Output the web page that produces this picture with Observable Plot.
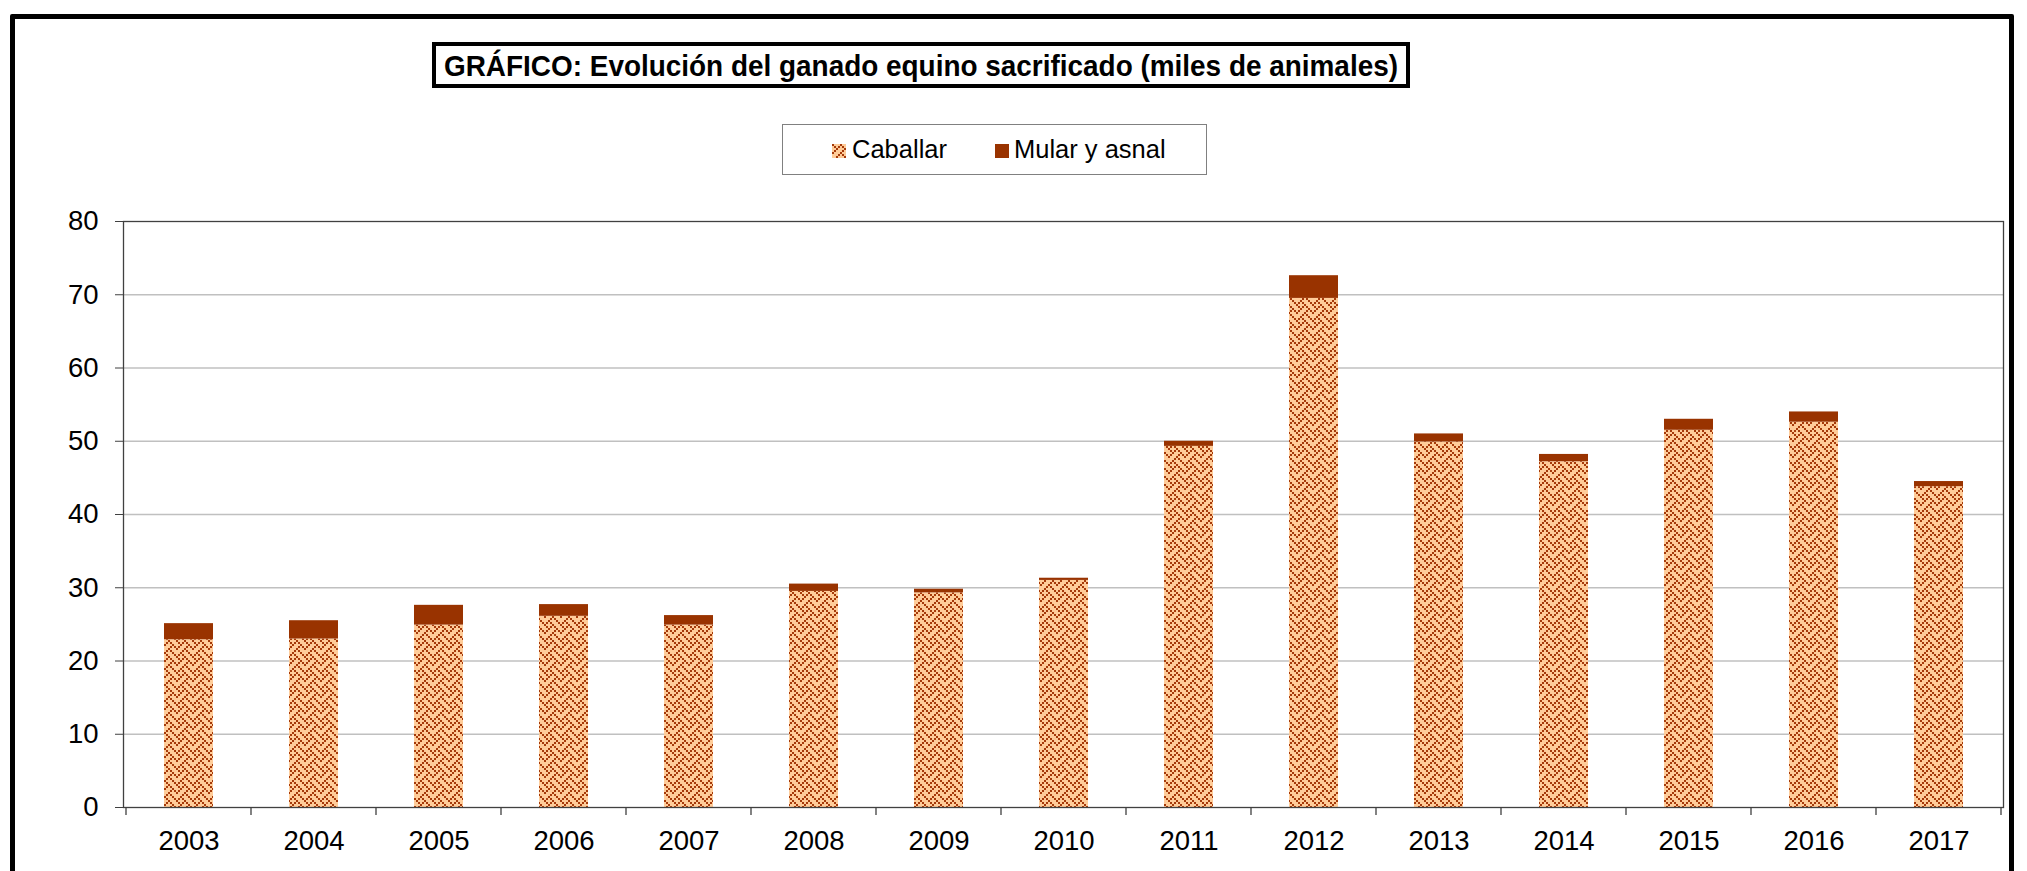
<!DOCTYPE html>
<html>
<head>
<meta charset="utf-8">
<script src="https://cdn.jsdelivr.net/npm/d3@7"></script>
<script src="https://cdn.jsdelivr.net/npm/@observablehq/plot@0.6"></script>
<style>
  html, body { margin: 0; padding: 0; background: #fff; overflow: hidden; }
  #page { position: relative; width: 2027px; height: 871px; overflow: hidden; font-family: "Liberation Sans", Arial, sans-serif; }
  #frame { position: absolute; left: 10px; top: 14px; width: 1994px; height: 1000px; border: 5px solid #000; border-radius: 2px; box-sizing: content-box; }
  #chart { position: absolute; left: 0; top: 0; }
  #title { position: absolute; left: 432px; top: 42px; width: 970px; height: 38px; border: 4px solid #000; background: #fff; z-index: 2; }
  #title svg { overflow: visible; display: block; }
  #legend { position: absolute; left: 782px; top: 124px; width: 423px; height: 49px; border: 1.5px solid #808080; background: #fff; z-index: 2; font-size: 25.5px; color: #000; }
  .sw { position: absolute; width: 14px; height: 14px; top: 19px; }
  .lt { position: absolute; top: 9px; line-height: 30px; white-space: nowrap; }
</style>
</head>
<body>
<svg width="0" height="0" style="position:absolute">
  <defs>
    <pattern id="weave" patternUnits="userSpaceOnUse" width="16" height="16">
      <rect width="16" height="16" fill="#ffcc99"></rect>
      <g id="weavecells"></g>
    </pattern>
  </defs>
</svg>
<div id="page">
  <div id="frame"></div>
  <div id="chart"></div>
  <div id="title">
    <svg width="970" height="38">
      <text x="8" y="30" font-family="Liberation Sans, Arial, sans-serif" font-weight="bold" font-size="30" textLength="954" lengthAdjust="spacingAndGlyphs">GRÁFICO: Evolución del ganado equino sacrificado (miles de animales)</text>
    </svg>
  </div>
  <div id="legend">
    <svg class="sw" style="left:49px" width="14" height="14"><rect width="14" height="14" fill="url(#weave)"></rect></svg>
    <div class="lt" style="left:69px">Caballar</div>
    <svg class="sw" style="left:212px" width="14" height="14"><rect width="14" height="14" fill="#993300"></rect></svg>
    <div class="lt" style="left:231px">Mular y asnal</div>
  </div>
</div>
<script>
// ---- data ----
const years = ["2003","2004","2005","2006","2007","2008","2009","2010","2011","2012","2013","2014","2015","2016","2017"];
const caballar = [22.9, 23.0, 24.9, 26.1, 24.9, 29.5, 29.3, 31.0, 49.3, 69.5, 49.9, 47.2, 51.5, 52.6, 43.8];
const mular    = [2.2, 2.5, 2.7, 1.6, 1.3, 1.0, 0.5, 0.3, 0.7, 3.1, 1.1, 1.0, 1.5, 1.4, 0.7];
const yTicks = [0, 10, 20, 30, 40, 50, 60, 70, 80];
const seriesNames = ["Caballar", "Mular y asnal"];

// weave pattern bitmap (8x8)
const weaveBits = [0x88, 0x54, 0x22, 0x45, 0x88, 0x14, 0x22, 0x51];
const cells = d3.select("#weavecells");
weaveBits.forEach((b, r) => {
  for (let c = 0; c < 8; c++) {
    if (b & (0x80 >> c)) {
      cells.append("rect").attr("x", c * 2).attr("y", r * 2).attr("width", 2).attr("height", 2).attr("fill", "#a63a0a");
    }
  }
});

const table = years.map((y, i) => ({year: y, cab: caballar[i], mul: mular[i], top: caballar[i] + mular[i]}));

const W = 2027, H = 871;
const plot = Plot.plot({
  width: W,
  height: H,
  marginLeft: 123,
  marginRight: 24,
  marginTop: 221,
  marginBottom: 64,
  style: {background: "transparent", fontFamily: "Liberation Sans, Arial, sans-serif", fontSize: "27.5px", color: "#000"},
  x: {domain: years, paddingInner: 0.61, paddingOuter: 0.305, label: null},
  y: {domain: [0, 80], label: null},
  marks: [
    Plot.gridY(yTicks.filter(t => t > 0 && t < 80), {stroke: "#c0c0c0", strokeOpacity: 1, strokeWidth: 1.3}),
    Plot.barY(table, {x: "year", y1: 0, y2: "cab", fill: "url(#weave)"}),
    Plot.barY(table, {x: "year", y1: "cab", y2: "top", fill: "#993300"}),
    Plot.frame({stroke: "#404040", strokeWidth: 1.3}),
    Plot.axisY({ticks: yTicks, tickSize: 8, tickPadding: 17, stroke: "#404040", fontSize: 27.5, label: null}),
    Plot.axisX({tickSize: 0, tickPadding: 23, fontSize: 27.5, label: null})
  ]
});
document.getElementById("chart").appendChild(plot);

// boundary ticks on x axis (between categories), using the plot's x scale
const xs = plot.scale("x");
const svg = d3.select(plot.tagName.toLowerCase() === "svg" ? plot : plot.querySelector("svg"));
const gap = (xs.step - xs.bandwidth) / 2;
const bounds = years.map(y => xs.apply(y) - gap);
bounds.push(xs.apply(years[years.length - 1]) + xs.bandwidth + gap);
const y0 = plot.scale("y").apply(0);
svg.append("g").selectAll("line").data(bounds).join("line")
  .attr("x1", d => d).attr("x2", d => d)
  .attr("y1", y0).attr("y2", y0 + 8)
  .attr("stroke", "#404040").attr("stroke-width", 1.3);
</script>
</body>
</html>
